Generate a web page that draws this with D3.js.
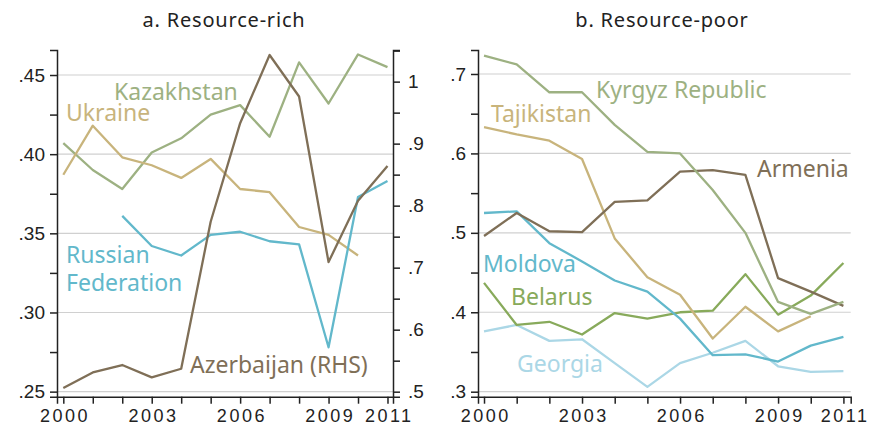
<!DOCTYPE html>
<html>
<head>
<meta charset="utf-8">
<script src="https://cdn.jsdelivr.net/npm/d3@7"></script>
<style>
  body { margin: 0; background: #fff; }
  svg { font-family: "Noto Sans", sans-serif; }
  .tick text { fill: #222; }
</style>
</head>
<body>
<div id="chart"></div>
<script>
const years = [2000, 2001, 2002, 2003, 2004, 2005, 2006, 2007, 2008, 2009, 2010, 2011];
const yearLabels = [2000, 2003, 2006, 2009, 2011];

// a. Resource-rich (left axis)
const kazakhstan = [.407, .390, .378, .401, .410, .425, .431, .411, .458, .432, .463, .455];
const ukraine = [.387, .418, .398, .393, .385, .397, .378, .376, .354, .349, .336];
const russia = [null, null, .361, .342, .336, .349, .351, .345, .343, .278, .373, .383];
// right axis
const azerbaijan = [.506, .531, .543, .523, .537, .774, .933, 1.043, .976, .709, .808, .864];

// b. Resource-poor
const kyrgyz = [.723, .712, .677, .677, .636, .602, .600, .554, .500, .413, .398, .413];
const tajikistan = [.633, .624, .616, .593, .493, .444, .422, .367, .407, .376, .395];
const armenia = [.496, .525, .502, .501, .539, .541, .577, .579, .573, .443, .426, .408];
const moldova = [.525, .527, .487, .464, .440, .426, .392, .346, .347, .338, .358, .369];
const belarus = [.437, .384, .388, .372, .399, .392, .400, .402, .448, .397, .421, .462];
const georgia = [.376, .384, .364, .366, .336, .306, .336, .349, .364, .332, .325, .326];

const leftTicksA = [.25, .30, .35, .40, .45];
const rightTicksA = [.5, .6, .7, .8, .9, 1];
const leftTicksB = [.3, .4, .5, .6, .7];

const colors = {
  green: '#9db182', tan: '#c8b47c', blue: '#62b8cb', brown: '#7f6f57',
  dgreen: '#88aa5b', lblue: '#abd7e6'
};

const width = 875, height = 436;
const plotTop = 50, plotBottom = 396.7;

const svg = d3.select('#chart').append('svg')
  .attr('width', width).attr('height', height);

const fmt = d => d === 1 ? '1' : d3.format('.2f')(d).replace(/^0/, '');
const fmt1 = d => d === 1 ? '1' : d3.format('.1f')(d).replace(/^0/, '');

function styleAxis(g) {
  g.select('.domain').attr('stroke', '#222').attr('stroke-width', 1.5);
  g.selectAll('.tick line').attr('stroke', '#222').attr('stroke-width', 1.5);
  g.selectAll('.tick text').attr('font-size', 19);
}

function drawLine(g, x, y, values, color) {
  const pts = values.map((v, i) => [years[i], v]).filter(d => d[1] != null);
  g.append('path')
    .datum(pts)
    .attr('fill', 'none')
    .attr('stroke', color)
    .attr('stroke-width', 2.3)
    .attr('stroke-linejoin', 'round')
    .attr('d', d3.line().x(d => x(d[0])).y(d => y(d[1])));
}

function label(g, text, xp, yp, color) {
  g.append('text').attr('x', xp).attr('y', yp)
    .attr('fill', color).attr('font-size', 23).text(text);
}

function xAxis(g, x) {
  const ax = g.append('g')
    .attr('transform', `translate(0,${plotBottom})`)
    .call(d3.axisBottom(x).tickValues(years).tickSizeOuter(0).tickSize(7).tickPadding(6)
      .tickFormat(d => yearLabels.includes(d) ? d : ''));
  styleAxis(ax);
  ax.selectAll('.tick text').attr('font-size', 18)
    .attr('letter-spacing', 2.5).attr('dx', 1.25);
}

// ---- Panel a ----
const xA = d3.scaleLinear().domain([1999.786, 2011.187]).range([57, 393]);
const yA = d3.scaleLinear().domain([.2468, .4658]).range([plotBottom, plotTop]);
const yA2 = d3.scaleLinear().domain([.4919, 1.051]).range([plotBottom, plotTop]);

const gA = svg.append('g');
gA.selectAll('.grid').data(leftTicksA).enter().append('line')
  .attr('x1', xA.range()[0]).attr('x2', xA.range()[1])
  .attr('y1', d => yA(d)).attr('y2', d => yA(d))
  .attr('stroke', '#d0d0d0').attr('stroke-width', 1.2);

drawLine(gA, xA, yA, kazakhstan, colors.green);
drawLine(gA, xA, yA, ukraine, colors.tan);
drawLine(gA, xA, yA, russia, colors.blue);
drawLine(gA, xA, yA2, azerbaijan, colors.brown);

const minorA = d3.range(.25, .4651, .025);
const axA = gA.append('g').attr('transform', `translate(${xA.range()[0]},0)`)
  .call(d3.axisLeft(yA).tickValues(minorA).tickSizeOuter(0).tickSize(7).tickPadding(5)
    .tickFormat(d => leftTicksA.some(t => Math.abs(t - d) < 1e-6) ? fmt(d) : ''));
styleAxis(axA);

const minorA2 = d3.range(.5, 1.0501, .05);
const axA2 = gA.append('g').attr('transform', `translate(${xA.range()[1]},0)`)
  .call(d3.axisRight(yA2).tickValues(minorA2).tickSizeOuter(0).tickSize(7).tickPadding(8)
    .tickFormat(d => rightTicksA.some(t => Math.abs(t - d) < 1e-6) ? fmt1(d) : ''));
styleAxis(axA2);
xAxis(gA, xA);

gA.append('text').attr('x', 224).attr('y', 27).attr('text-anchor', 'middle')
  .attr('font-size', 20).attr('letter-spacing', 0.8).attr('fill', '#222').text('a. Resource-rich');

label(gA, 'Kazakhstan', 114, 100, colors.green);
label(gA, 'Ukraine', 66, 121, colors.tan);
label(gA, 'Russian', 66, 263, colors.blue);
label(gA, 'Federation', 66, 291, colors.blue);
label(gA, 'Azerbaijan (RHS)', 190, 373, colors.brown);

// ---- Panel b ----
const xB = d3.scaleLinear().domain([1999.816, 2011.223]).range([478, 850.7]);
const yB = d3.scaleLinear().domain([.2937, .7302]).range([plotBottom, plotTop]);

const gB = svg.append('g');
gB.selectAll('.grid').data(leftTicksB).enter().append('line')
  .attr('x1', xB.range()[0]).attr('x2', xB.range()[1])
  .attr('y1', d => yB(d)).attr('y2', d => yB(d))
  .attr('stroke', '#d0d0d0').attr('stroke-width', 1.2);

drawLine(gB, xB, yB, georgia, colors.lblue);
drawLine(gB, xB, yB, belarus, colors.dgreen);
drawLine(gB, xB, yB, moldova, colors.blue);
drawLine(gB, xB, yB, tajikistan, colors.tan);
drawLine(gB, xB, yB, armenia, colors.brown);
drawLine(gB, xB, yB, kyrgyz, colors.green);

const minorB = d3.range(.3, .7001, .05);
const axB = gB.append('g').attr('transform', `translate(${xB.range()[0]},0)`)
  .call(d3.axisLeft(yB).tickValues(minorB).tickSizeOuter(0).tickSize(7).tickPadding(5)
    .tickFormat(d => leftTicksB.some(t => Math.abs(t - d) < 1e-6) ? fmt1(d) : ''));
styleAxis(axB);
xAxis(gB, xB);

gB.append('text').attr('x', 662).attr('y', 27).attr('text-anchor', 'middle')
  .attr('font-size', 20).attr('letter-spacing', 0.8).attr('fill', '#222').text('b. Resource-poor');

label(gB, 'Kyrgyz Republic', 596, 98, colors.green);
label(gB, 'Tajikistan', 491, 122, colors.tan);
label(gB, 'Armenia', 757, 177, colors.brown);
label(gB, 'Moldova', 483, 272, colors.blue);
label(gB, 'Belarus', 511, 305, colors.dgreen);
label(gB, 'Georgia', 517, 372, colors.lblue);
</script>
</body>
</html>
